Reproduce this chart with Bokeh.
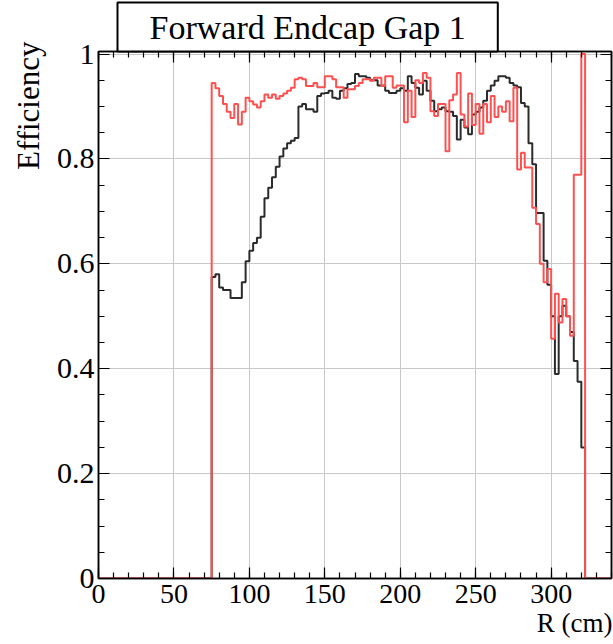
import numpy as np
from bokeh.plotting import figure
from bokeh.models import (Range1d, LinearAxis, SingleIntervalTicker, Title,
                          CustomJSTickFormatter)
from bokeh.embed import file_html
from bokeh.resources import INLINE

# ---------------- data ----------------
R_AXIS_MAX = 340.0
BIN_WIDTH = 2.5
R_FIRST_BIN = 75.0

# efficiency per 2.5 cm bin, starting at R = 75 cm (last bin starts at 320 cm)
black_eff = [
    0.575, 0.58, 0.555, 0.55, 0.55, 0.535, 0.535, 0.535, 0.565, 0.605,
    0.625, 0.64, 0.65, 0.69, 0.725, 0.745, 0.765, 0.785, 0.805, 0.82,
    0.83, 0.835, 0.84, 0.9, 0.905, 0.895, 0.895, 0.89, 0.92, 0.925,
    0.926, 0.93, 0.917, 0.915, 0.93, 0.935, 0.943, 0.945, 0.962, 0.958,
    0.958, 0.955, 0.95, 0.95, 0.94, 0.94, 0.93, 0.926, 0.926, 0.93,
    0.935, 0.93, 0.958, 0.945, 0.936, 0.923, 0.949, 0.93, 0.911, 0.891,
    0.895, 0.898, 0.891, 0.89, 0.882, 0.837, 0.875, 0.86, 0.847, 0.885,
    0.89, 0.898, 0.911, 0.93, 0.94, 0.949, 0.958, 0.958, 0.955, 0.945,
    0.94, 0.937, 0.907, 0.9, 0.83, 0.79, 0.697, 0.697, 0.606, 0.56,
    0.5, 0.39, 0.5, 0.52, 0.5, 0.47, 0.415, 0.375, 0.25,
]
red_eff = [
    0.945, 0.935, 0.92, 0.905, 0.89, 0.878, 0.905, 0.866, 0.89, 0.917,
    0.91, 0.904, 0.898, 0.91, 0.923, 0.917, 0.923, 0.915, 0.92, 0.925,
    0.93, 0.936, 0.952, 0.955, 0.952, 0.939, 0.939, 0.945, 0.937, 0.937,
    0.958, 0.958, 0.952, 0.937, 0.937, 0.917, 0.933, 0.933, 0.939, 0.945,
    0.952, 0.952, 0.949, 0.955, 0.955, 0.939, 0.958, 0.958, 0.936, 0.94,
    0.94, 0.87, 0.93, 0.88, 0.95, 0.945, 0.964, 0.955, 0.891, 0.882,
    0.905, 0.905, 0.815, 0.912, 0.923, 0.964, 0.885, 0.862, 0.925, 0.865,
    0.905, 0.848, 0.905, 0.87, 0.92, 0.88, 0.9, 0.89, 0.91, 0.872,
    0.936, 0.78, 0.812, 0.784, 0.784, 0.707, 0.676, 0.6, 0.565, 0.59,
    0.457, 0.543, 0.488, 0.533, 0.5, 0.463, 0.77, 0.77, 1.0,
]

x_major_ticks = 50
y_major_ticks = 0.2

TITLE = "Forward Endcap Gap 1"
Y_LABEL = "Efficiency"
X_LABEL = "R (cm)"

# ---------------- build step histograms ----------------
edges = np.arange(0.0, R_AXIS_MAX + BIN_WIDTH / 2, BIN_WIDTH)
n_bins = len(edges) - 1
i0 = int(round(R_FIRST_BIN / BIN_WIDTH))


def hist_steps(vals):
    h = np.zeros(n_bins)
    h[i0:i0 + len(vals)] = vals
    xs = np.repeat(edges, 2)[1:-1]
    ys = np.repeat(h, 2)
    return xs, ys


FONT = "Liberation Serif"

p = figure(width=613, height=644,
           x_range=Range1d(0, R_AXIS_MAX), y_range=Range1d(0, 1.005),
           output_backend="svg", toolbar_location=None,
           min_border_left=98, min_border_right=2,
           min_border_top=50, min_border_bottom=66,
           outline_line_color="black", outline_line_width=1.5,
           background_fill_color="white", border_fill_color="white")

xt = SingleIntervalTicker(interval=x_major_ticks, num_minor_ticks=5)
yt = SingleIntervalTicker(interval=y_major_ticks, num_minor_ticks=4)

p.xgrid.ticker = xt
p.ygrid.ticker = yt
p.grid.grid_line_color = "#c8c8c8"
p.grid.grid_line_width = 1

yfmt = CustomJSTickFormatter(code="""
if (Math.abs(tick) < 1e-9) return '0';
if (Math.abs(tick - 1) < 1e-9) return '1';
return tick.toFixed(1);
""")


def style_axis(ax, show_labels, size):
    ax.major_tick_in = 11
    ax.major_tick_out = 0
    ax.minor_tick_in = 6
    ax.minor_tick_out = 0
    ax.axis_line_color = "black"
    ax.axis_line_width = 1.5
    ax.major_tick_line_width = 1.2
    ax.minor_tick_line_width = 1.2
    ax.major_label_text_font = FONT
    ax.major_label_text_color = "black"
    if show_labels:
        ax.major_label_text_font_size = size
    else:
        ax.major_label_text_font_size = "0px"
        ax.major_label_standoff = 0
        ax.formatter = CustomJSTickFormatter(code="return '';")


xa = p.xaxis[0]
xa.ticker = xt
style_axis(xa, True, "28px")
xa.major_label_standoff = 6

ya = p.yaxis[0]
ya.ticker = yt
ya.formatter = yfmt
style_axis(ya, True, "30px")
ya.major_label_standoff = 4

top_ax = LinearAxis(ticker=SingleIntervalTicker(interval=x_major_ticks, num_minor_ticks=5))
style_axis(top_ax, False, "0px")
p.add_layout(top_ax, "above")

right_ax = LinearAxis(ticker=SingleIntervalTicker(interval=y_major_ticks, num_minor_ticks=4))
style_axis(right_ax, False, "0px")
p.add_layout(right_ax, "right")

bx, by = hist_steps(black_eff)
rx, ry = hist_steps(red_eff)
p.line(bx, by, line_color="#2b2b2b", line_width=2)
p.line(rx, ry, line_color="#ff5050", line_width=2)

# chart title in a framed box (ROOT style)
p.add_layout(Title(text=TITLE, align="left", offset=19, standoff=0,
                   text_font=FONT, text_font_size="34px",
                   text_font_style="normal", text_color="black",
                   border_line_color="black", border_line_width=2,
                   background_fill_color="white",
                   padding=dict(left=32, right=32, top=6, bottom=6)),
             "above")

p.add_layout(Title(text=Y_LABEL, align="right", standoff=15, offset=-10,
                   text_font=FONT, text_font_size="31px",
                   text_font_style="normal", text_color="black"), "left")
p.add_layout(Title(text=X_LABEL, align="right", standoff=0, offset=-1,
                   text_font=FONT, text_font_size="27px",
                   text_font_style="normal", text_color="black"), "below")

open("out.html", "w").write(file_html(p, INLINE))
